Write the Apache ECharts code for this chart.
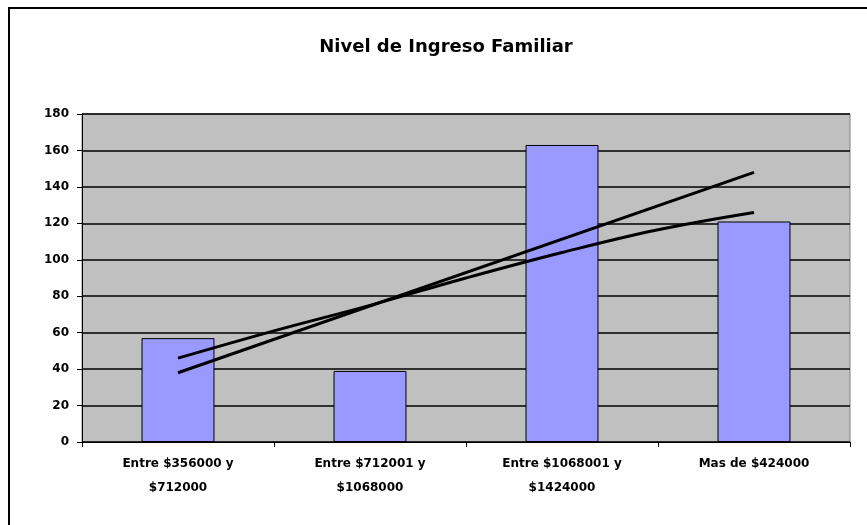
<!DOCTYPE html>
<html>
<head>
<meta charset="utf-8">
<script src="https://cdn.jsdelivr.net/npm/echarts@6/dist/echarts.min.js"></script>
<style>
html, body { margin: 0; padding: 0; background: #fff; }
#chart { width: 867px; height: 525px; }
</style>
</head>
<body>
<div id="chart"></div>
<script>
// categorias y valores
var categories = ['Entre $356000 y\n$712000', 'Entre $712001 y\n$1068000', 'Entre $1068001 y\n$1424000', 'Mas de $424000'];
var counts = [57, 39, 163, 121];
var yTicks = [0, 20, 40, 60, 80, 100, 120, 140, 160, 180];

// lineas de tendencia (x en posicion de categoria 1..4)
var trendLinearX = [1, 4];
var trendLinearY = [38, 148];
var trendCurveX = [1, 1.5, 2, 2.5, 3, 3.5, 4];
var trendCurveY = [46, 61, 75, 90, 104, 116.5, 126];

function pairs(xs, ys) {
    var out = [];
    for (var i = 0; i < xs.length; i++) out.push([xs[i], ys[i]]);
    return out;
}

var myChart = echarts.init(document.getElementById('chart'));

var font = '"DejaVu Sans", Verdana, sans-serif';

var option = {
    animation: false,
    backgroundColor: '#fff',
    title: {
        text: 'Nivel de Ingreso Familiar',
        left: 441,
        textAlign: 'center',
        top: 33,
        textStyle: { fontFamily: font, fontSize: 18, fontWeight: 'bold', color: '#000' }
    },
    graphic: [{
        type: 'rect',
        shape: { x: 9, y: 8, width: 900, height: 600 },
        style: { fill: 'none', stroke: '#000', lineWidth: 2 },
        silent: true
    }],
    grid: {
        left: 82, right: 17, top: 114, bottom: 83,
        show: true,
        backgroundColor: '#C0C0C0',
        borderColor: '#808080',
        borderWidth: 1
    },
    xAxis: [{
        type: 'category',
        data: categories,
        axisLine: { lineStyle: { color: '#000', width: 1 } },
        axisTick: { show: true, inside: false, length: 5, lineStyle: { color: '#000' } },
        axisLabel: { fontFamily: font, fontSize: 12, fontWeight: 'bold', color: '#000', margin: 10, lineHeight: 24, interval: 0 },
        splitLine: { show: false }
    }, {
        type: 'value',
        min: 0.5,
        max: 4.5,
        show: false
    }],
    yAxis: {
        type: 'value',
        min: 0,
        max: 180,
        interval: 20,
        axisLine: { show: true, lineStyle: { color: '#000', width: 1 } },
        axisTick: { show: true, length: 5, lineStyle: { color: '#000' } },
        axisLabel: {
            fontFamily: font, fontSize: 12, fontWeight: 'bold', color: '#000', margin: 13,
            formatter: function (v) { return yTicks.indexOf(v) >= 0 ? String(v) : ''; }
        },
        splitLine: { show: true, lineStyle: { color: '#000', width: 1.5 } }
    },
    series: [
        {
            name: 'Nivel de Ingreso',
            type: 'bar',
            data: counts,
            barWidth: '38%',
            itemStyle: { color: '#9999FF', borderColor: '#000', borderWidth: 1 }
        },
        {
            name: 'Tendencia lineal',
            type: 'line',
            xAxisIndex: 1,
            data: pairs(trendLinearX, trendLinearY),
            showSymbol: false,
            lineStyle: { color: '#000', width: 3 },
            z: 5
        },
        {
            name: 'Tendencia',
            type: 'line',
            xAxisIndex: 1,
            data: pairs(trendCurveX, trendCurveY),
            smooth: 0.4,
            showSymbol: false,
            lineStyle: { color: '#000', width: 3 },
            z: 5
        }
    ]
};

myChart.setOption(option);
</script>
</body>
</html>
